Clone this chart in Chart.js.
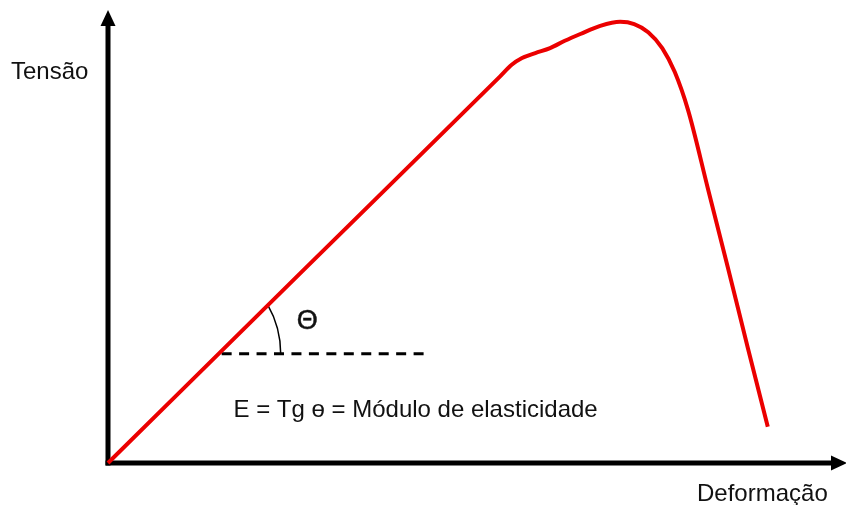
<!DOCTYPE html>
<html>
<head>
<meta charset="utf-8">
<script src="https://cdn.jsdelivr.net/npm/chart.js@4"></script>
<style>
  html, body { margin: 0; padding: 0; background: #fff; }
  canvas { display: block; }
</style>
</head>
<body>
<canvas id="myChart" width="846" height="505"></canvas>
<script>
// stress-strain curve (arbitrary units, 0..100 on both axes)
var curveX = [0, 26.0, 53.1, 54.7, 56.1, 57.9, 59.9, 61.9, 64.0, 66.7, 69.4, 71.3, 73.2, 75.1, 76.8, 78.6, 81.3, 84.0, 86.7, 89.4];
var curveY = [0, 41.8, 85.3, 87.9, 89.4, 90.5, 91.6, 93.2, 94.7, 96.5, 97.4, 96.9, 95.1, 91.6, 86.3, 77.9, 60.5, 43.1, 25.4, 8.0];

// horizontal reference for the angle
var refX = [15.4, 42.9];
var refY = [24.1, 24.1];

var yTitle = 'Tensão';
var xTitle = 'Deformação';
var angleLabel = 'Θ';
var formula = 'E = Tg ө = Módulo de elasticidade';

function toPoints(xs, ys) {
    return xs.map(function (x, i) { return { x: x, y: ys[i] }; });
}

// axes with arrow heads, angle arc and the text labels
var sketch = {
    id: 'sketch',
    beforeDatasetsDraw: function (chart) {
        var ctx = chart.ctx;
        var xs = chart.scales.x, ys = chart.scales.y;
        var x0 = xs.getPixelForValue(0), y0 = ys.getPixelForValue(0);
        var xEnd = xs.getPixelForValue(100), yEnd = ys.getPixelForValue(100);
        ctx.save();
        ctx.fillStyle = '#000';
        // y axis
        ctx.fillRect(x0 - 2.5, yEnd + 12, 5, y0 - yEnd - 12 + 2.5);
        ctx.beginPath();
        ctx.moveTo(x0, yEnd);
        ctx.lineTo(x0 - 7.5, yEnd + 16);
        ctx.lineTo(x0 + 7.5, yEnd + 16);
        ctx.closePath();
        ctx.fill();
        // x axis
        ctx.fillRect(x0 - 2.5, y0 - 2.5, xEnd - x0 - 10, 5);
        ctx.beginPath();
        ctx.moveTo(xEnd + 1, y0);
        ctx.lineTo(xEnd - 15, y0 - 7.5);
        ctx.lineTo(xEnd - 15, y0 + 7.5);
        ctx.closePath();
        ctx.fill();

        // angle arc between the slope and the dashed reference
        var cx = xs.getPixelForValue(10.0), cy = ys.getPixelForValue(24.1);
        var r = xs.getPixelForValue(23.4) - cx;
        ctx.strokeStyle = '#000';
        ctx.lineWidth = 1.5;
        ctx.beginPath();
        ctx.arc(cx, cy, r, -0.52, 0);
        ctx.stroke();

        // labels
        ctx.fillStyle = '#111';
        ctx.textBaseline = 'middle';
        ctx.textAlign = 'left';
        ctx.font = '24px "Liberation Sans", Arial, sans-serif';
        ctx.fillText(yTitle, 11, 72);
        ctx.fillText(xTitle, 697, 494);
        ctx.fillText(formula, xs.getPixelForValue(17.0), ys.getPixelForValue(11.7));
        ctx.font = '27px "Liberation Sans", Arial, sans-serif';
        ctx.textAlign = 'center';
        ctx.lineWidth = 0.5;
        ctx.strokeStyle = '#111';
        var tx = xs.getPixelForValue(27.0), ty = ys.getPixelForValue(31.3);
        ctx.fillText(angleLabel, tx, ty);
        ctx.strokeText(angleLabel, tx, ty);
        ctx.restore();
    }
};

var ctx = document.getElementById('myChart').getContext('2d');
var myChart = new Chart(ctx, {
    type: 'scatter',
    data: {
        datasets: [{
            data: toPoints(curveX, curveY),
            showLine: true,
            borderColor: 'rgb(235, 0, 0)',
            borderWidth: 4,
            pointRadius: 0,
            cubicInterpolationMode: 'monotone',
            clip: false
        }, {
            data: toPoints(refX, refY),
            showLine: true,
            borderColor: '#000',
            borderWidth: 3,
            borderDash: [10, 7.45],
            pointRadius: 0,
            clip: false
        }]
    },
    options: {
        responsive: false,
        animation: false,
        layout: { padding: { left: 108, top: 10, right: 0, bottom: 42 } },
        plugins: { legend: { display: false }, tooltip: { enabled: false } },
        scales: {
            x: { type: 'linear', min: 0, max: 100, display: false },
            y: { type: 'linear', min: 0, max: 100, display: false }
        }
    },
    plugins: [sketch]
});
</script>
</body>
</html>
